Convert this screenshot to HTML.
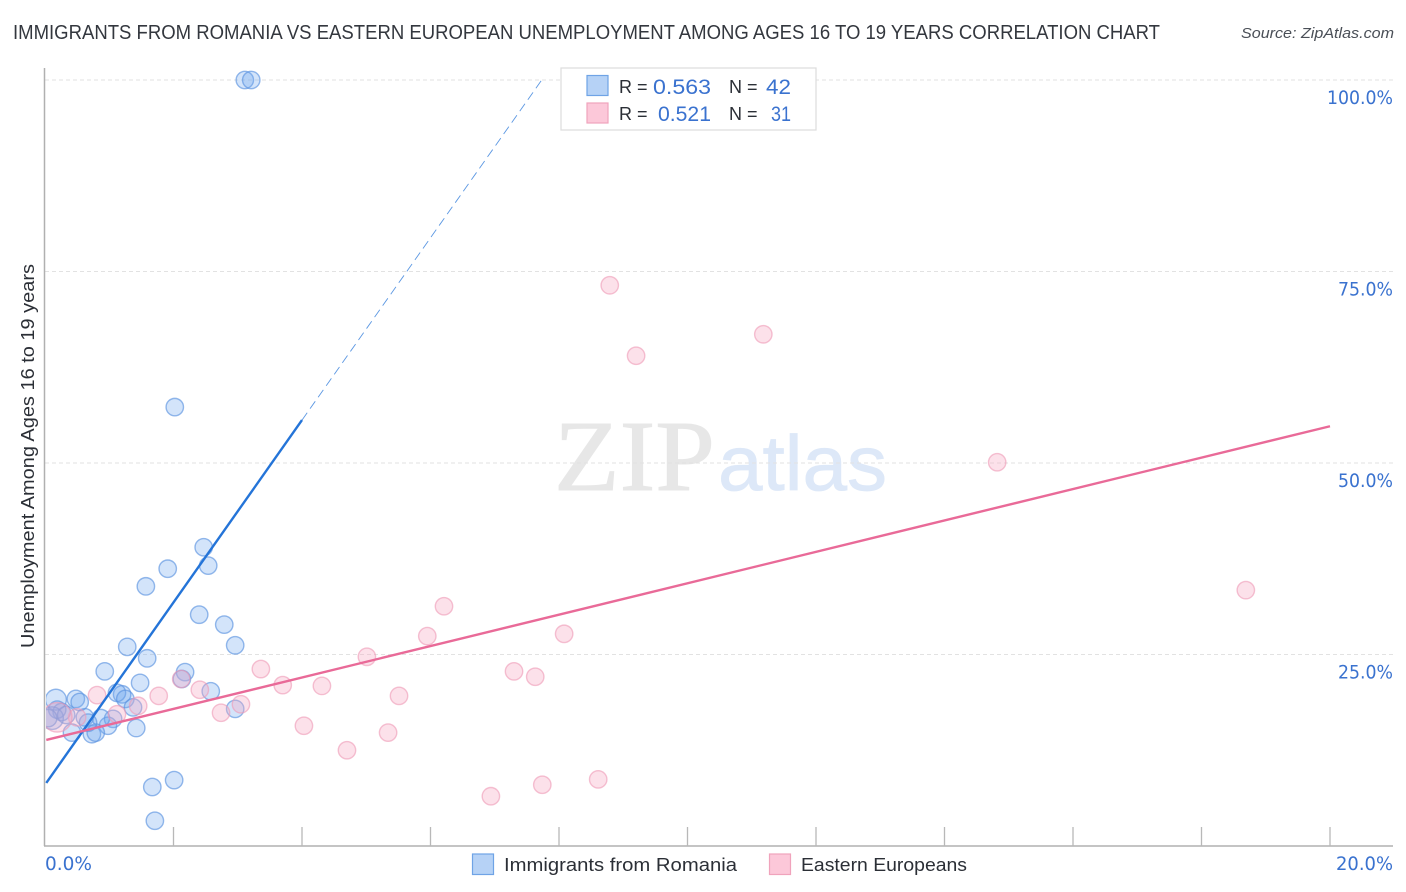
<!DOCTYPE html>
<html lang="en">
<head>
<meta charset="utf-8">
<title>Immigrants from Romania vs Eastern European Unemployment Correlation Chart</title>
<style>
html,body{margin:0;padding:0;background:#fff;}
svg{display:block;font-family:"Liberation Sans",sans-serif;}
</style>
</head>
<body>
<svg id="chart" xmlns="http://www.w3.org/2000/svg" width="1406" height="892" viewBox="0 0 1406 892">
  <rect x="0" y="0" width="1406" height="892" fill="#fff"/>
  <text x="13" y="39" font-size="20" fill="#33373e" textLength="1147" lengthAdjust="spacingAndGlyphs">IMMIGRANTS FROM ROMANIA VS EASTERN EUROPEAN UNEMPLOYMENT AMONG AGES 16 TO 19 YEARS CORRELATION CHART</text>
  <text x="1394" y="38" font-size="15" font-style="italic" fill="#4a4f57" text-anchor="end" textLength="153" lengthAdjust="spacingAndGlyphs">Source: ZipAtlas.com</text>

  <g>
    <text x="554" y="490" font-family="'Liberation Serif',serif" font-size="101" fill="#e7e7e7" stroke="#e7e7e7" stroke-width="1" textLength="161" lengthAdjust="spacingAndGlyphs">ZIP</text>
    <text x="718" y="490" font-size="78" fill="#dde8f8" stroke="#dde8f8" stroke-width="0.8" textLength="169" lengthAdjust="spacingAndGlyphs">atlas</text>
  </g>

  <g id="grid"></g>
  <g id="axes"></g>
  <defs>
    <clipPath id="plot-clip"><rect x="46" y="60" width="1350" height="785"/></clipPath>
  </defs>
  <g id="points" clip-path="url(#plot-clip)"></g>
  <g id="trends"></g>

  <text transform="translate(34,456) rotate(-90)" font-size="18.5" fill="#2b2f36" text-anchor="middle" textLength="384" lengthAdjust="spacingAndGlyphs">Unemployment Among Ages 16 to 19 years</text>

  <g>
    <rect x="561" y="68" width="255" height="62" fill="#fff" stroke="#dcdcdc" stroke-width="1.2"/>
    <rect x="587" y="75.500" width="21" height="20" fill="#b6d2f6" stroke="#6fa3e6" stroke-width="1.2"/>
    <rect x="587" y="103" width="21" height="20" fill="#fcc8d9" stroke="#f0a3bc" stroke-width="1.2"/>
    <text x="619" y="93" font-size="18" fill="#2b2f36">R =</text>
    <text x="653" y="94" font-size="21" fill="#3a72cf" textLength="58" lengthAdjust="spacingAndGlyphs">0.563</text>
    <text x="729" y="93" font-size="18" fill="#2b2f36">N =</text>
    <text x="766" y="94" font-size="21" fill="#3a72cf" textLength="25" lengthAdjust="spacingAndGlyphs">42</text>
    <text x="619" y="120" font-size="18" fill="#2b2f36">R =</text>
    <text x="658" y="121" font-size="21" fill="#3a72cf" textLength="53" lengthAdjust="spacingAndGlyphs">0.521</text>
    <text x="729" y="120" font-size="18" fill="#2b2f36">N =</text>
    <text x="771" y="121" font-size="21" fill="#3a72cf" textLength="20" lengthAdjust="spacingAndGlyphs">31</text>
  </g>

  <g>
    <rect x="472.500" y="854" width="21" height="20.500" fill="#b6d2f6" stroke="#6fa3e6" stroke-width="1.2"/>
    <text x="504" y="871" font-size="18.500" fill="#2b2f36" textLength="233" lengthAdjust="spacingAndGlyphs">Immigrants from Romania</text>
    <rect x="769.500" y="854" width="21" height="20.500" fill="#fcc8d9" stroke="#f0a3bc" stroke-width="1.2"/>
    <text x="801" y="871" font-size="18.500" fill="#2b2f36" textLength="166" lengthAdjust="spacingAndGlyphs">Eastern Europeans</text>
  </g>
</svg>
<script>
// Chart data (x = immigrants from Romania %, y = unemployment %)
const romaniaX = [3.11,3.21,2.02,2.47,2.54,1.91,1.57,2.40,2.79,2.96,1.28,1.59,0.93,2.18,2.13,1.48,1.20,1.12,1.25,1.37,2.58,2.96,1.42,1.06,0.98,0.87,0.73,0.79,0.62,0.67,0.42,0.17,0.48,0.54,0.26,0.19,0.11,0.05,0.33,1.67,2.01,1.71];
const romaniaY = [100,100,57.3,39.0,36.6,36.2,33.9,30.2,28.9,26.2,26.0,24.5,22.8,22.7,21.8,21.3,19.8,20.0,19.2,18.1,20.2,17.9,15.4,16.6,15.7,16.7,14.6,14.8,16.8,16.1,14.8,19.1,19.2,18.8,17.5,17.8,16.7,16.7,17.1,7.7,8.6,3.3];
const romaniaWeight = [1,1,1,1,1,1,1,1,1,1,1,1,1,1,1,1,1,1,1,1,1,1,1,1,1,1,1,1,1,1,1,1.2,1,1,1,1,1.3,1,1,1,1,1];
const easternX = [8.79,9.20,11.18,14.82,18.69,6.21,5.95,8.08,5.01,3.36,3.70,4.31,5.51,7.30,7.63,2.12,2.41,0.81,1.77,1.45,3.05,2.74,4.03,5.34,4.70,6.94,7.74,8.61,1.12,0.50,0.19];
const easternY = [73.2,64.0,66.8,50.1,33.4,31.3,27.4,27.7,24.7,23.1,21.0,20.9,19.6,22.8,22.1,21.8,20.4,19.7,19.6,18.3,18.5,17.4,15.7,14.8,12.5,6.5,8.0,8.7,17.2,16.8,16.8];
const easternWeight = [1,1,1,1,1,1,1,1,1,1,1,1,1,1,1,1,1,1,1,1,1,1,1,1,1,1,1,1,1,1,1.7];
const romaniaTrend = [8.0, 11.9];   // intercept, slope
const easternTrend = [13.8, 2.05];  // intercept, slope
const romaniaSolidEnd = 4.0;
const romaniaDashEnd = 7.73;
const easternEnd = 20;
const xTicks = [0,2,4,6,8,10,12,14,16,18,20];
const yTicks = [25,50,75,100];
const xEdgeLabels = ["0.0%","20.0%"];
const yTickLabels = ["25.0%","50.0%","75.0%","100.0%"];

const NS = "http://www.w3.org/2000/svg";
function sx(v){ return 45 + v * 64.25; }
function sy(v){ return 846 - v * 7.66; }
function make(tag, attrs, parent){
  const el = document.createElementNS(NS, tag);
  for (const k in attrs) el.setAttribute(k, attrs[k]);
  parent.appendChild(el);
  return el;
}
const grid = document.getElementById("grid");
const axes = document.getElementById("axes");
const pts = document.getElementById("points");
const trends = document.getElementById("trends");

yTicks.forEach(function(t, i){
  const g = make("line", {x1:45, x2:1393, y1:sy(t), y2:sy(t), stroke:"#e2e2e2", "stroke-width":1, "stroke-dasharray":"4 3"}, grid);
  
  
  const lab = make("text", {x:1393, y:sy(t)+24, "font-size":19, fill:"#3a72cf", "text-anchor":"end", "font-family":"'DejaVu Sans',sans-serif", textLength: yTickLabels[i].length === 6 ? 66 : 55, lengthAdjust:"spacingAndGlyphs"}, axes);
  lab.textContent = yTickLabels[i];
  
  
});

const yAxis = make("line", {x1:44.5, x2:44.5, y1:68, y2:846, stroke:"#b0b0b0", "stroke-width":1.5}, axes);


const xAxis = make("line", {x1:44, x2:1393, y1:846, y2:846, stroke:"#b0b0b0", "stroke-width":1.5}, axes);



xTicks.forEach(function(t){
  if (t === 0) return;
  const k = make("line", {x1:sx(t), x2:sx(t), y1:827, y2:846, stroke:"#b8b8b8", "stroke-width":1.3}, axes);
  
  
});

const xLabelLeft = make("text", {x:sx(xTicks[0]), y:870, "font-size":19, fill:"#3a72cf", "font-family":"'DejaVu Sans',sans-serif", textLength:47, lengthAdjust:"spacingAndGlyphs"}, axes);
xLabelLeft.textContent = xEdgeLabels[0];


const xLabelRight = make("text", {x:1393, y:870, "font-size":19, fill:"#3a72cf", "text-anchor":"end", "font-family":"'DejaVu Sans',sans-serif", textLength:57, lengthAdjust:"spacingAndGlyphs"}, axes);
xLabelRight.textContent = xEdgeLabels[1];



romaniaX.forEach(function(x, i){
  const c = make("circle", {cx:sx(x), cy:sy(romaniaY[i]), r:8.7*romaniaWeight[i], fill:"#6ea6ee", "fill-opacity":0.3, stroke:"#5c94e0", "stroke-opacity":0.65, "stroke-width":1.4}, pts);
  
  
});
easternX.forEach(function(x, i){
  const c = make("circle", {cx:sx(x), cy:sy(easternY[i]), r:8.7*easternWeight[i], fill:"#f7a8c2", "fill-opacity":0.35, stroke:"#ee9ab5", "stroke-opacity":0.6, "stroke-width":1.4}, pts);
  
  
});

function val(tr, x){ return tr[0] + tr[1] * x; }
const lineDash = make("line", {x1:sx(romaniaSolidEnd), y1:sy(val(romaniaTrend,romaniaSolidEnd)), x2:sx(romaniaDashEnd), y2:sy(val(romaniaTrend,romaniaDashEnd)), stroke:"#2474d8", "stroke-width":0.9, "stroke-dasharray":"9 5", "stroke-opacity":0.75}, trends);


const lineBlue = make("line", {x1:sx(0.02), y1:sy(val(romaniaTrend,0.02)), x2:sx(romaniaSolidEnd), y2:sy(val(romaniaTrend,romaniaSolidEnd)), stroke:"#2474d8", "stroke-width":2.4}, trends);


const linePink = make("line", {x1:sx(0.02), y1:sy(val(easternTrend,0.02)), x2:sx(easternEnd), y2:sy(val(easternTrend,easternEnd)), stroke:"#e96a98", "stroke-width":2.4}, trends);


</script>
</body>
</html>
